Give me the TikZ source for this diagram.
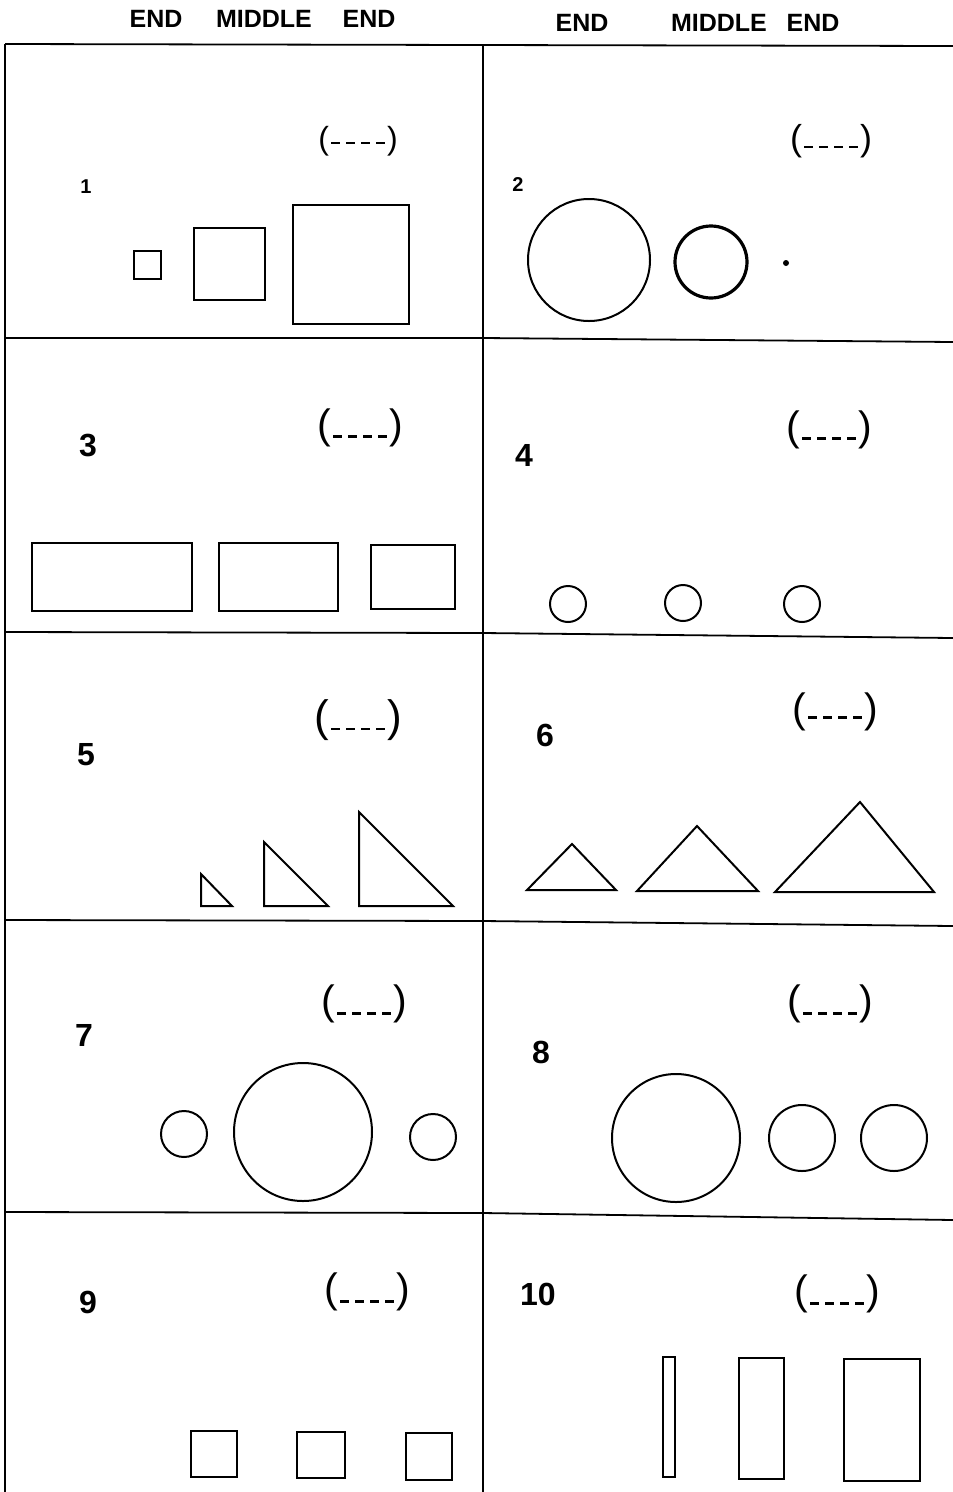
\documentclass[tikz,border=0pt]{standalone}
\usepackage{fontspec}
\setmainfont{Liberation Sans}
\newcommand\brk[1]{(\kern2pt\rule[#1]{9pt}{2.4pt}\kern6pt\rule[#1]{9pt}{2.4pt}\kern6pt\rule[#1]{9pt}{2.4pt}\kern6pt\rule[#1]{9pt}{2.4pt}\kern2pt)}
\tikzset{
  grid/.style={line width=1.8pt,black},
  shp/.style={line width=2pt,black},
  hdr/.style={inner sep=0pt,font=\bfseries\fontsize{25}{25}\selectfont},
  num/.style={inner sep=0pt,font=\bfseries\fontsize{32}{32}\selectfont},
  smallnum/.style={inner sep=0pt,font=\bfseries\fontsize{20}{20}\selectfont},
  blank/.style={inner sep=0pt,font=\fontsize{41}{41}\selectfont},
}
\begin{document}
\begin{tikzpicture}[x=1pt,y=-1pt]
\useasboundingbox (0,0) rectangle (953,1492);
\fill[white] (0,0) rectangle (953,1492);
% header
\node[hdr] (h1) at (156,19) {END};
\node[hdr] (h2) at (264,19) {MIDDLE};
\node[hdr] (h3) at (369,19) {END};
\node[hdr] (h4) at (582,23) {END};
\node[hdr] (h5) at (719,23) {MIDDLE};
\node[hdr] (h6) at (813,23) {END};
% grid
\draw[grid] (5,44) -- (953,46);
\draw[grid] (5,44) -- (5,1492);
\draw[grid] (483,45) -- (483,1492);
\draw[grid] (5,338) -- (483,338) -- (953,342);
\draw[grid] (5,632) -- (483,633) -- (953,638);
\draw[grid] (5,920) -- (483,921) -- (953,926);
\draw[grid] (5,1212) -- (483,1213) -- (953,1220);
% labels
\node[smallnum] (n1) at (86,187) {1};
\node[smallnum] (n2) at (518,185) {2};
\node[num] (n3) at (88,445) {3};
\node[num] (n4) at (524,455) {4};
\node[num] (n5) at (86,755) {5};
\node[num] (n6) at (545,735) {6};
\node[num] (n7) at (84,1035) {7};
\node[num] (n8) at (541,1052) {8};
\node[num] (n9) at (88,1302) {9};
\node[num] (n10) at (538,1294) {10};
% blanks
\node[blank,font=\fontsize{32}{32}\selectfont] (b1) at (358,141) {\brk{5pt}};
\node[blank,font=\fontsize{36}{36}\selectfont] (b2) at (831,141) {\brk{2pt}};
\node[blank] (b3) at (360,428) {\brk{1pt}};
\node[blank] (b4) at (829,430) {\brk{1pt}};
\node[blank,font=\fontsize{44}{44}\selectfont] (b5) at (358,720) {\brk{1pt}};
\node[blank] (b6) at (835,712) {\brk{4pt}};
\node[blank] (b7) at (364,1004) {\brk{0pt}};
\node[blank] (b8) at (830,1004) {\brk{0pt}};
\node[blank] (b9) at (367,1292) {\brk{0pt}};
\node[blank] (b10) at (837,1294) {\brk{0pt}};
% panel 1
\draw[shp] (134,251) rectangle (161,279);
\draw[shp] (194,228) rectangle (265,300);
\draw[shp] (293,205) rectangle (409,324);
% panel 2
\draw[shp] (589,260) circle (61);
\draw[line width=3.2pt] (711,262) circle (36);
\fill (786,263) circle (3);
% panel 3
\draw[shp] (32,543) rectangle (192,611);
\draw[shp] (219,543) rectangle (338,611);
\draw[shp] (371,545) rectangle (455,609);
% panel 4
\draw[shp] (568,604) circle (18);
\draw[shp] (683,603) circle (18);
\draw[shp] (802,604) circle (18);
% panel 5
\draw[shp] (201,874) -- (201,906) -- (232,906) -- cycle;
\draw[shp] (264,842) -- (264,906) -- (328,906) -- cycle;
\draw[shp] (359,812) -- (359,906) -- (453,906) -- cycle;
% panel 6
\draw[shp] (527,890) -- (616,890) -- (572,844) -- cycle;
\draw[shp] (637,891) -- (758,891) -- (697,826) -- cycle;
\draw[shp] (775,892) -- (934,892) -- (860,802) -- cycle;
% panel 7
\draw[shp] (184,1134) circle (23);
\draw[shp] (303,1132) circle (69);
\draw[shp] (433,1137) circle (23);
% panel 8
\draw[shp] (676,1138) circle (64);
\draw[shp] (802,1138) circle (33);
\draw[shp] (894,1138) circle (33);
% panel 9
\draw[shp] (191,1431) rectangle (237,1477);
\draw[shp] (297,1432) rectangle (345,1478);
\draw[shp] (406,1433) rectangle (452,1480);
% panel 10
\draw[shp] (663,1357) rectangle (675,1477);
\draw[shp] (739,1358) rectangle (784,1479);
\draw[shp] (844,1359) rectangle (920,1481);
\end{tikzpicture}
\end{document}
